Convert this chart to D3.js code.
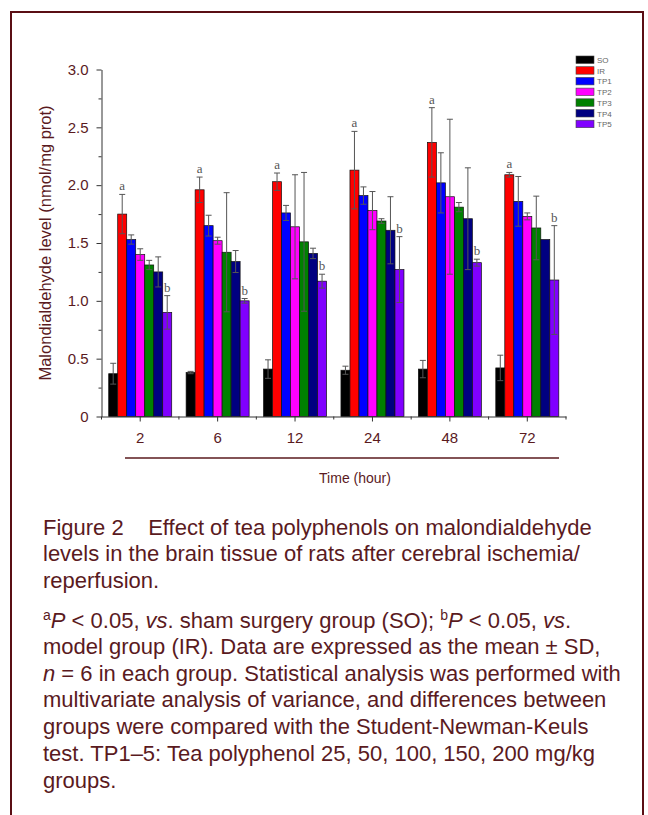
<!DOCTYPE html>
<html>
<head>
<meta charset="utf-8">
<script src="https://cdn.jsdelivr.net/npm/d3@7"></script>
<style>
  body { margin: 0; background: #fff; }
  svg { display: block; }
</style>
</head>
<body>
<svg id="chart"></svg>
<script>
// time points and groups
var hours = ["2", "6", "12", "24", "48", "72"];
var groups = ["SO", "IR", "TP1", "TP2", "TP3", "TP4", "TP5"];
var groupColors = ["#000000", "#ff0000", "#0000ff", "#ff00ff", "#008000", "#000080", "#8000ff"];

// means (nmol/mg prot), one array per group
var soMean  = [0.37, 0.38, 0.41, 0.40, 0.41, 0.42];
var irMean  = [1.75, 1.96, 2.03, 2.13, 2.37, 2.09];
var tp1Mean = [1.53, 1.65, 1.76, 1.91, 2.02, 1.86];
var tp2Mean = [1.40, 1.52, 1.64, 1.78, 1.90, 1.73];
var tp3Mean = [1.31, 1.42, 1.51, 1.69, 1.81, 1.63];
var tp4Mean = [1.25, 1.34, 1.41, 1.61, 1.71, 1.53];
var tp5Mean = [0.90, 1.00, 1.17, 1.27, 1.33, 1.18];

// standard deviations
var soSD  = [0.09, 0.01, 0.08, 0.035, 0.075, 0.11];
var irSD  = [0.17, 0.11, 0.075, 0.335, 0.30, 0.02];
var tp1SD = [0.04, 0.09, 0.065, 0.075, 0.26, 0.215];
var tp2SD = [0.05, 0.03, 0.45, 0.165, 0.67, 0.03];
var tp3SD = [0.04, 0.515, 0.60, 0.02, 0.04, 0.275];
var tp4SD = [0.13, 0.095, 0.045, 0.29, 0.44, 0.0];
var tp5SD = [0.145, 0.02, 0.06, 0.285, 0.03, 0.47];

// significance letters: a on IR, b on TP5
var irMark  = ["a", "a", "a", "a", "a", "a"];
var tp5Mark = ["b", "b", "b", "b", "b", "b"];

var yTickValues = [0, 0.5, 1.0, 1.5, 2.0, 2.5, 3.0];
var yTickLabels = ["0", "0.5", "1.0", "1.5", "2.0", "2.5", "3.0"];
var yMinorValues = [0.25, 0.75, 1.25, 1.75, 2.25, 2.75];

var means = [soMean, irMean, tp1Mean, tp2Mean, tp3Mean, tp4Mean, tp5Mean];
var sds = [soSD, irSD, tp1SD, tp2SD, tp3SD, tp4SD, tp5SD];
var marks = [null, irMark, null, null, null, null, tp5Mark];

var maroon = "#5a1a1e";
var frameColor = "#5a0e14";

var svg = d3.select("#chart")
  .attr("width", 648)
  .attr("height", 815);

// frame around the figure
svg.append("rect")
  .attr("x", 11)
  .attr("y", 12)
  .attr("width", 632)
  .attr("height", 830)
  .attr("fill", "none")
  .attr("stroke", frameColor)
  .attr("stroke-width", 2);

var plotLeft = 101.5, plotRight = 566, plotTop = 69.5, plotBottom = 416.5;

var x0 = d3.scaleBand()
  .domain(hours)
  .range([plotLeft, plotRight])
  .padding(0);

var x1 = d3.scaleBand()
  .domain(groups)
  .range([0, x0.bandwidth()])
  .paddingInner(0)
  .paddingOuter(0.8);

var y = d3.scaleLinear()
  .domain([0, 3])
  .range([plotBottom, plotTop]);

// flatten into records
var rows = [];
hours.forEach(function (h, i) {
  groups.forEach(function (g, j) {
    rows.push({
      hour: h,
      group: g,
      color: groupColors[j],
      mean: means[j][i],
      sd: sds[j][i],
      mark: marks[j] ? marks[j][i] : null
    });
  });
});

var plot = svg.append("g");

plot.selectAll("rect.bar")
  .data(rows)
  .enter()
  .append("rect")
  .attr("class", "bar")
  .attr("x", function (d) { return x0(d.hour) + x1(d.group); })
  .attr("y", function (d) { return y(d.mean); })
  .attr("width", x1.bandwidth())
  .attr("height", function (d) { return y(0) - y(d.mean); })
  .attr("fill", function (d) { return d.color; })
  .attr("stroke", "#111")
  .attr("stroke-width", 0.7);

// error bars
var err = plot.selectAll("g.err")
  .data(rows.filter(function (d) { return d.sd > 0; }))
  .enter()
  .append("g")
  .attr("class", "err")
  .attr("stroke", "#555")
  .attr("stroke-width", 1);

function cx(d) { return x0(d.hour) + x1(d.group) + x1.bandwidth() / 2; }

err.append("line")
  .attr("x1", cx).attr("x2", cx)
  .attr("y1", function (d) { return y(d.mean + d.sd); })
  .attr("y2", function (d) { return y(d.mean - d.sd); });
err.append("line")
  .attr("x1", function (d) { return cx(d) - 3; })
  .attr("x2", function (d) { return cx(d) + 3; })
  .attr("y1", function (d) { return y(d.mean + d.sd); })
  .attr("y2", function (d) { return y(d.mean + d.sd); });
err.append("line")
  .attr("x1", function (d) { return cx(d) - 3; })
  .attr("x2", function (d) { return cx(d) + 3; })
  .attr("y1", function (d) { return y(d.mean - d.sd); })
  .attr("y2", function (d) { return y(d.mean - d.sd); });

// a / b letters
plot.selectAll("text.mark")
  .data(rows.filter(function (d) { return d.mark; }))
  .enter()
  .append("text")
  .attr("class", "mark")
  .attr("x", cx)
  .attr("y", function (d) { return y(d.mean + d.sd) - 4; })
  .attr("text-anchor", "middle")
  .attr("font-family", "'Liberation Serif', 'DejaVu Serif', serif")
  .attr("font-size", "13px")
  .attr("fill", "#555")
  .text(function (d) { return d.mark; });

// y axis
var yAxis = d3.axisLeft(y)
  .tickValues(yTickValues)
  .tickFormat(function (d, i) { return yTickLabels[i]; })
  .tickSizeInner(5)
  .tickSizeOuter(0)
  .tickPadding(8);
var gy = svg.append("g")
  .attr("transform", "translate(" + plotLeft + ",0)")
  .call(yAxis);
svg.append("g")
  .attr("transform", "translate(" + plotLeft + ",0)")
  .call(d3.axisLeft(y).tickValues(yMinorValues).tickFormat("").tickSizeInner(3).tickSizeOuter(0))
  .call(function (g) {
    g.select(".domain").remove();
    g.selectAll("line").attr("stroke", "#333");
  });

// x axis
var xAxis = d3.axisBottom(x0)
  .tickSizeInner(5)
  .tickSizeOuter(0)
  .tickPadding(11);
var gx = svg.append("g")
  .attr("transform", "translate(0," + plotBottom + ")")
  .call(xAxis);
// minor ticks at group boundaries
gx.selectAll("line.minor")
  .data(hours.map(function (h) { return x0(h); }).concat([plotRight]))
  .enter()
  .append("line")
  .attr("class", "minor")
  .attr("x1", function (d) { return d; })
  .attr("x2", function (d) { return d; })
  .attr("y1", 0)
  .attr("y2", 3)
  .attr("stroke", "#333");

[gx, gy].forEach(function (g) {
  g.selectAll(".domain, .tick line").attr("stroke", "#333");
  g.selectAll("text")
    .attr("font-family", "'Liberation Sans', Arial, sans-serif")
    .attr("font-size", "15px")
    .attr("fill", maroon);
});

// axis titles
svg.append("text")
  .attr("transform", "translate(51,243) rotate(-90)")
  .attr("text-anchor", "middle")
  .attr("font-family", "'Liberation Sans', Arial, sans-serif")
  .attr("font-size", "16.5px")
  .attr("fill", maroon)
  .text("Malondialdehyde level (nmol/mg prot)");

svg.append("line")
  .attr("x1", 125).attr("x2", 559)
  .attr("y1", 458).attr("y2", 458)
  .attr("stroke", maroon)
  .attr("stroke-width", 1.5);

svg.append("text")
  .attr("x", 355)
  .attr("y", 483)
  .attr("text-anchor", "middle")
  .attr("font-family", "'Liberation Sans', Arial, sans-serif")
  .attr("font-size", "14px")
  .attr("fill", maroon)
  .text("Time (hour)");

// legend
var legend = svg.append("g")
  .attr("transform", "translate(576,56)");
var li = legend.selectAll("g")
  .data(groups)
  .enter()
  .append("g")
  .attr("transform", function (d, i) { return "translate(0," + (i * 10.7) + ")"; });
li.append("rect")
  .attr("width", 18)
  .attr("height", 7.5)
  .attr("fill", function (d, i) { return groupColors[i]; })
  .attr("stroke", "#444")
  .attr("stroke-width", 0.6);
li.append("text")
  .attr("x", 21)
  .attr("y", 7)
  .attr("font-family", "'Liberation Sans', Arial, sans-serif")
  .attr("font-size", "8px")
  .attr("fill", "#666")
  .text(function (d) { return d; });

// caption
var captionLines = [
  [{ t: "Figure 2    Effect of tea polyphenols on malondialdehyde" }],
  [{ t: "levels in the brain tissue of rats after cerebral ischemia/" }],
  [{ t: "reperfusion." }],
  [{ t: "a", sup: true }, { t: "P", it: true }, { t: " < 0.05, " }, { t: "vs", it: true },
   { t: ". sham surgery group (SO); " }, { t: "b", sup: true }, { t: "P", it: true },
   { t: " < 0.05, " }, { t: "vs", it: true }, { t: "." }],
  [{ t: "model group (IR). Data are expressed as the mean \u00b1 SD," }],
  [{ t: "n", it: true }, { t: " = 6 in each group. Statistical analysis was performed with" }],
  [{ t: "multivariate analysis of variance, and differences between" }],
  [{ t: "groups were compared with the Student-Newman-Keuls" }],
  [{ t: "test. TP1\u20135: Tea polyphenol 25, 50, 100, 150, 200 mg/kg" }],
  [{ t: "groups." }]
];
var captionY = [535, 561, 588, 628, 654, 681, 707, 734, 761, 788];

var cap = svg.append("g")
  .attr("font-family", "'Liberation Sans', Arial, sans-serif")
  .attr("font-size", "22px")
  .attr("fill", maroon);

captionLines.forEach(function (line, i) {
  var t = cap.append("text")
    .attr("x", 43)
    .attr("y", captionY[i])
    .attr("xml:space", "preserve")
    .style("white-space", "pre");
  line.forEach(function (seg) {
    var s = t.append("tspan").text(seg.t);
    if (seg.it) s.attr("font-style", "italic");
    if (seg.sup) s.attr("font-size", "14px").attr("baseline-shift", "super");
  });
});
</script>
</body>
</html>
